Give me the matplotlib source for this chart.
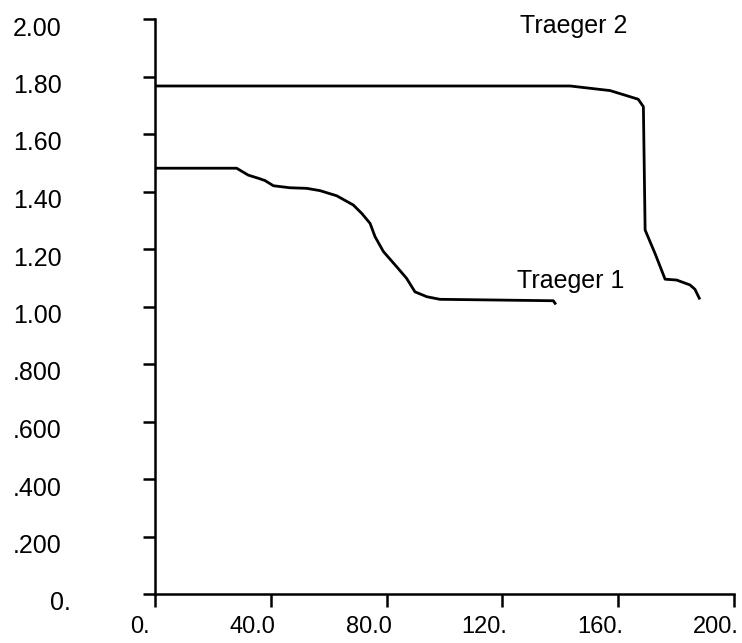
import matplotlib
matplotlib.use("Agg")
import matplotlib.pyplot as plt
import matplotlib.transforms as mtransforms

plt.rcParams['font.family'] = ['Liberation Sans', 'DejaVu Sans']

# Traeger 1 curve
t1_x = [0, 28.2, 32.2, 35.7, 38.0, 40.9, 46.6, 52.4, 57.0, 62.8, 68.5, 71.4,
        74.3, 76.0, 78.9, 83.5, 86.9, 89.8, 93.9, 98.4, 137.6, 138.2]
t1_y = [1.481, 1.481, 1.457, 1.446, 1.438, 1.420, 1.413, 1.411, 1.403, 1.385,
        1.353, 1.324, 1.289, 1.243, 1.191, 1.138, 1.098, 1.051, 1.034, 1.025,
        1.020, 1.011]

# Traeger 2 curve
t2_x = [0, 143.4, 157.2, 166.9, 168.7, 169.3, 172.7, 176.2, 180.2, 184.8, 186.5, 188.0]
t2_y = [1.767, 1.767, 1.751, 1.721, 1.695, 1.266, 1.185, 1.095, 1.092, 1.075,
        1.060, 1.029]

xticks = [0, 40, 80, 120, 160, 200]
xlabels = ['0.', '40.0', '80.0', '120.', '160.', '200.']
yticks = [0, 0.2, 0.4, 0.6, 0.8, 1.0, 1.2, 1.4, 1.6, 1.8, 2.0]
ylabels = ['0.', '.200', '.400', '.600', '.800', '1.00', '1.20', '1.40',
           '1.60', '1.80', '2.00']

fig = plt.figure(figsize=(7.42, 6.43), dpi=100)
ax = fig.add_axes([155/742, 49/643, 579/742, 575/643])

ax.plot(t1_x, t1_y, color='black', lw=2)
ax.plot(t2_x, t2_y, color='black', lw=2)

ax.text(125.0, 1.064, 'Traeger 1', fontsize=18, ha='left', va='baseline')
ax.text(126.0, 1.951, 'Traeger 2', fontsize=18, ha='left', va='baseline')

ax.set_xlim(0, 200)
ax.set_ylim(0, 2)
for s in ['top', 'right']:
    ax.spines[s].set_visible(False)
for s in ['left', 'bottom']:
    ax.spines[s].set_linewidth(1.8)

ax.set_xticks(xticks)
ax.set_xticklabels(xlabels, fontsize=17, ha='right')
ax.set_yticks(yticks)
ax.set_yticklabels(ylabels, fontsize=18)
ax.tick_params(axis='x', direction='out', length=9, width=1.8, pad=7)
ax.tick_params(axis='y', direction='out', length=9, width=1.8, pad=58)

# shift labels a little like in the original
for lab in ax.get_xticklabels():
    dx = -5 if lab.get_text() == '0.' else 5
    lab.set_transform(lab.get_transform() +
                      mtransforms.ScaledTranslation(dx/100, 0, fig.dpi_scale_trans))
for lab in ax.get_yticklabels():
    dx = 9 if lab.get_text() == '0.' else 0
    lab.set_transform(lab.get_transform() +
                      mtransforms.ScaledTranslation(dx/100, -7/100, fig.dpi_scale_trans))

fig.savefig('out.png', dpi=100)
